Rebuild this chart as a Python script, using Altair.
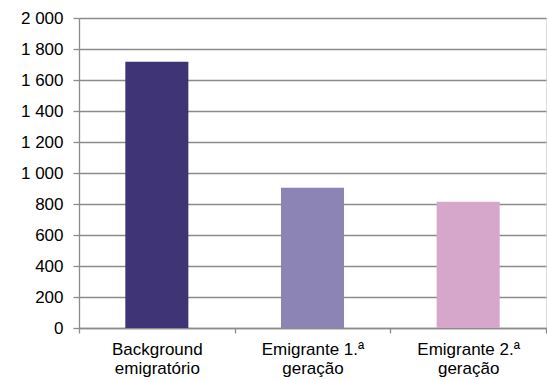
import altair as alt
import pandas as pd

categories = ["Background|emigratório", "Emigrante 1.ª|geração", "Emigrante 2.ª|geração"]
values = [1718, 905, 815]
colors = ["#3f3576", "#8b84b5", "#d6a7cb"]

df = pd.DataFrame({"categoria": categories, "valor": values})

grid_gray = "#8c8c8c"
font = "Liberation Sans"

chart = alt.Chart(df).mark_bar(width=alt.RelativeBandSize(0.405)).encode(
    x=alt.X(
        "categoria:N",
        sort=categories,
        scale=alt.Scale(paddingInner=0, paddingOuter=0),
        axis=alt.Axis(
            title=None,
            labelAngle=0,
            labelExpr="datum.value ? split(datum.value, '|') : ''",
            labelFont=font,
            labelFontSize=17,
            labelColor="#000000",
            labelLineHeight=19,
            labelPadding=8,
            tickBand="extent",
            tickSize=5,
            tickColor=grid_gray,
            tickWidth=1.3,
            domainColor=grid_gray,
            domainWidth=1.3,
            grid=False,
        ),
    ),
    y=alt.Y(
        "valor:Q",
        scale=alt.Scale(domain=[0, 2000], nice=False),
        axis=alt.Axis(
            title=None,
            values=list(range(0, 2001, 200)),
            labelExpr="replace(format(datum.value, ','), ',', ' ')",
            labelFont=font,
            labelFontSize=17,
            labelColor="#000000",
            labelPadding=10,
            tickSize=6,
            tickColor=grid_gray,
            tickWidth=1.3,
            domainColor=grid_gray,
            domainWidth=1.3,
            gridColor=grid_gray,
            gridWidth=1.3,
        ),
    ),
    color=alt.Color("categoria:N", sort=categories,
                    scale=alt.Scale(domain=categories, range=colors), legend=None),
).properties(
    width=467,
    height=310,
    autosize=alt.AutoSizeParams(type="none"),
    padding={"left": 79, "top": 18, "right": 1, "bottom": 52},
).configure_view(stroke=None).configure(background="white")

chart.save("out.html", embed_options={"renderer": "svg", "actions": False})
